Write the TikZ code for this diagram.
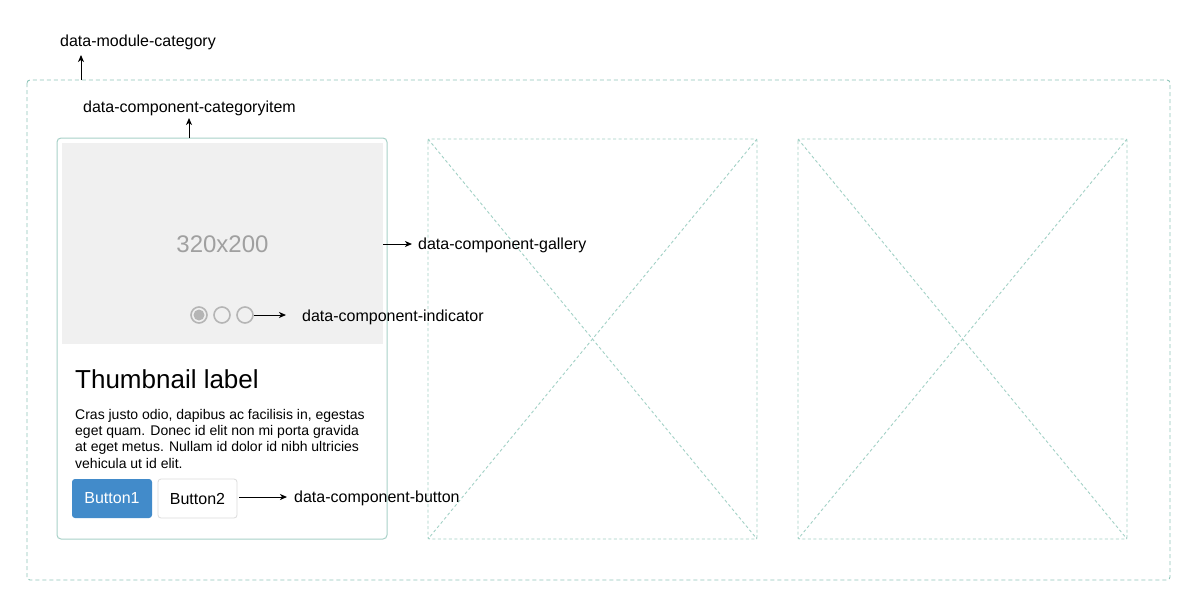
\documentclass[tikz,border=0pt]{standalone}
\usepackage{fontspec}
\setmainfont{Liberation Sans}
\usetikzlibrary{arrows.meta}
\definecolor{dashteal}{HTML}{8EC5B9}
\definecolor{cardline}{HTML}{A8D1C8}
\definecolor{phline}{HTML}{A2D1C6}
\definecolor{imgbg}{HTML}{F0F0F0}
\definecolor{imgtext}{HTML}{A0A0A0}
\definecolor{dotgray}{HTML}{B5B5B5}
\definecolor{btnblue}{HTML}{428BCA}
\definecolor{btnborder}{HTML}{DCDCDC}
\tikzset{
  lbl/.style={font=\fontsize{16}{19}\selectfont, inner sep=0pt, anchor=base west},
  para/.style={font=\fontsize{14}{17}\selectfont, inner sep=0pt, anchor=base west},
  arr/.style={-{Stealth[length=7pt,width=6pt,inset=2pt]}, line width=1pt, black},
  outerbox/.style={draw=dashteal, dash pattern=on 4pt off 3pt, line width=0.9pt, rounded corners=3pt},
  phbox/.style={draw=phline, dash pattern=on 3pt off 2.5pt, line width=0.9pt, rounded corners=2pt},
  phdiag/.style={draw=phline, dash pattern=on 3pt off 2.5pt, line width=0.9pt},
  dot/.style={circle, draw=dotgray, line width=1.6pt, minimum size=16pt, inner sep=0pt},
  btn/.style={rounded corners=3pt, minimum width=80pt, minimum height=39pt, inner sep=0pt, font=\fontsize{16}{19}\selectfont}
}
\begin{document}
\begin{tikzpicture}[x=1pt,y=-1pt]
\useasboundingbox[fill=white] (0,0) rectangle (1201,611);

% outer module box
\draw[outerbox] (27,80) rectangle (1170,580);

% card
\draw[cardline, line width=1pt, rounded corners=4pt] (57,138) rectangle (387,539);
\fill[imgbg] (62,143) rectangle (383,344);
\node[font=\fontsize{24}{28}\selectfont, text=imgtext, inner sep=0pt] (imgtxt) at (222.5,244) {320x200};

% indicators
\node[dot, fill=imgbg] (d1) at (199,315) {};
\fill[dotgray] (d1.center) circle (5.5pt);
\node[dot, fill=imgbg] (d2) at (222,315) {};
\node[dot, fill=imgbg] (d3) at (245,315) {};

% card text
\node[font=\fontsize{26}{30}\selectfont, inner sep=0pt, anchor=base west] (title) at (75,388.5) {Thumbnail label};
\node[para] (p1) at (75,419) {Cras justo odio, dapibus ac facilisis in, egestas};
\node[para] (p2) at (75,435.3) {eget quam. Donec id elit non mi porta gravida};
\node[para] (p3) at (75,451.6) {at eget metus. Nullam id dolor id nibh ultricies};
\node[para] (p4) at (75,468) {vehicula ut id elit.};

% buttons
\node[btn, fill=btnblue, text=white] (b1) at (112,498.5) {Button1};
\node[btn, fill=white, draw=btnborder, line width=0.8pt, minimum width=79pt] (b2) at (197.5,498.5) {Button2};

% placeholders
\draw[phbox] (428,139) rectangle (757,539);
\draw[phdiag] (428,139) -- (757,539);
\draw[phdiag] (757,139) -- (428,539);
\draw[phbox] (798,139) rectangle (1127,539);
\draw[phdiag] (798,139) -- (1127,539);
\draw[phdiag] (1127,139) -- (798,539);

% labels
\node[lbl] (modcat) at (60,46) {data-module-category};
\node[lbl] (catitem) at (83,112) {data-component-categoryitem};
\node[lbl] (gallery) at (418,249) {data-component-gallery};
\node[lbl] (indic) at (302,321) {data-component-indicator};
\node[lbl] (button) at (294,502) {data-component-button};

% connector anchors
\coordinate (outertop) at (81,80);
\coordinate (modcatbot) at (81,55);
\coordinate (cardtop) at (189,138);
\coordinate (catitembot) at (189,118);
\coordinate (imgright) at (383,244);
\coordinate (galleryleft) at (412,244);
\coordinate (indicleft) at (286,315);
\coordinate (btnright) at (239,497);
\coordinate (buttonleft) at (287,497);

\draw[arr] (outertop) -- (modcatbot);
\draw[arr] (cardtop) -- (catitembot);
\draw[arr] (imgright) -- (galleryleft);
\draw[arr] (d3.east) -- (indicleft);
\draw[arr] (btnright) -- (buttonleft);
\end{tikzpicture}
\end{document}
